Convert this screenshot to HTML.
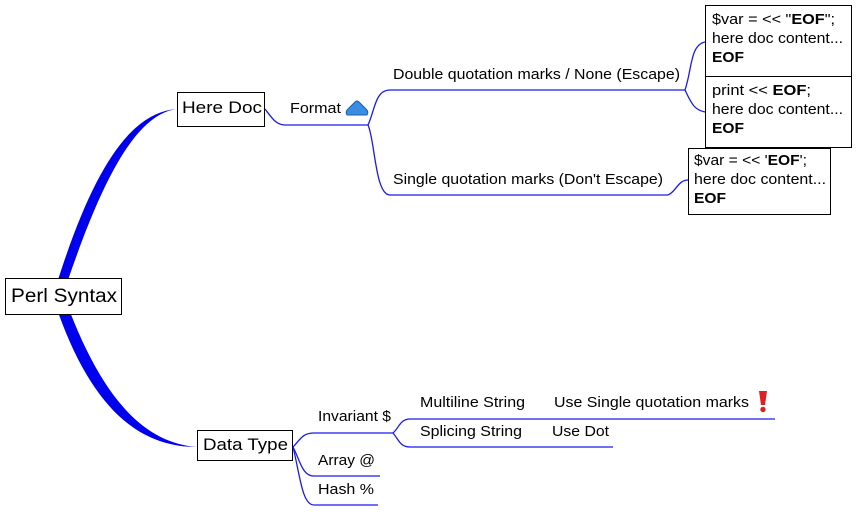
<!DOCTYPE html>
<html><head><meta charset="utf-8"><style>
html,body{margin:0;padding:0;background:#fff;}
svg text{font-family:"Liberation Sans",sans-serif;fill:#000;}
</style></head><body>
<svg width="856" height="511" viewBox="0 0 856 511" xmlns="http://www.w3.org/2000/svg">
<path d="M58,280 C93,170 130,112 177,109 C137,114 104,175 68,280 Z" fill="#0000ee"/>
<path d="M58,312 C93,410 140,447 197,447 C147,443 106,404 70,312 Z" fill="#0000ee"/>
<g fill="none" stroke="#1a1aee" stroke-width="1.3">
<path d="M265,109 C272,118 276,125 285,125 L368,125"/>
<path d="M368,125 C375,110 375,90 390,90 L685,90"/>
<path d="M368,125 C375,140 375,195 390,195 L668,195"/>
<path d="M685,90 C692,70 690,45 705,42"/>
<path d="M685,90 C692,105 695,110 705,112"/>
<path d="M668,195 C676,192 678,180 688,180"/>
<path d="M293,447 C300,440 302,433 314,433 L393,433"/>
<path d="M393,433 C399,428 400,419 410,419 L775,419"/>
<path d="M393,433 C399,440 400,447 410,447 L613,447"/>
<path d="M293,447 C300,460 302,476 314,476 L380,476"/>
<path d="M293,447 C300,475 302,505 314,505 L378,505"/>
</g>
<g fill="#fff" stroke="#000" stroke-width="1">
<rect x="5.5" y="278.5" width="116" height="36"/>
<rect x="177.5" y="92.5" width="87" height="34"/>
<rect x="197.5" y="430.5" width="95" height="30"/>
<rect x="705.5" y="5.5" width="146" height="142"/>
<line x1="705" y1="76.5" x2="852" y2="76.5"/>
<rect x="688.5" y="148.5" width="142" height="66"/>
</g>
<text x="11" y="302" font-size="19" textLength="106" lengthAdjust="spacingAndGlyphs">Perl Syntax</text>
<text x="182" y="113" font-size="17" textLength="80" lengthAdjust="spacingAndGlyphs">Here Doc</text>
<text x="203" y="450" font-size="17" textLength="85" lengthAdjust="spacingAndGlyphs">Data Type</text>
<path d="M347,115 Q345,112 348,109 L355,102 Q357,100 359,102 L366,109 Q369,112 367,115 Z" fill="#3a8de0" stroke="#1a5fb0" stroke-width="1"/>
<g font-size="15">
<text x="290" y="113" textLength="51" lengthAdjust="spacingAndGlyphs">Format</text>
<text x="393" y="79" textLength="287" lengthAdjust="spacingAndGlyphs">Double quotation marks / None (Escape)</text>
<text x="393" y="184" textLength="270" lengthAdjust="spacingAndGlyphs">Single quotation marks (Don't Escape)</text>
<text x="712" y="24" textLength="123" lengthAdjust="spacingAndGlyphs">$var = &lt;&lt; "<tspan font-weight="bold">EOF</tspan>";</text>
<text x="712" y="43" textLength="131" lengthAdjust="spacingAndGlyphs">here doc content...</text>
<text x="712" y="62" font-weight="bold" textLength="32" lengthAdjust="spacingAndGlyphs">EOF</text>
<text x="712" y="95" textLength="99" lengthAdjust="spacingAndGlyphs">print &lt;&lt; <tspan font-weight="bold">EOF</tspan>;</text>
<text x="712" y="114" textLength="131" lengthAdjust="spacingAndGlyphs">here doc content...</text>
<text x="712" y="133" font-weight="bold" textLength="32" lengthAdjust="spacingAndGlyphs">EOF</text>
<text x="694" y="165" textLength="113" lengthAdjust="spacingAndGlyphs">$var = &lt;&lt; '<tspan font-weight="bold">EOF</tspan>';</text>
<text x="694" y="184" textLength="132" lengthAdjust="spacingAndGlyphs">here doc content...</text>
<text x="694" y="203" font-weight="bold" textLength="32" lengthAdjust="spacingAndGlyphs">EOF</text>
<text x="318" y="421" textLength="73" lengthAdjust="spacingAndGlyphs">Invariant $</text>
<text x="420" y="407" textLength="105" lengthAdjust="spacingAndGlyphs">Multiline String</text>
<text x="554" y="407" textLength="195" lengthAdjust="spacingAndGlyphs">Use Single quotation marks</text>
<text x="420" y="436" textLength="102" lengthAdjust="spacingAndGlyphs">Splicing String</text>
<text x="552" y="436" textLength="57" lengthAdjust="spacingAndGlyphs">Use Dot</text>
<text x="318" y="465" textLength="57" lengthAdjust="spacingAndGlyphs">Array @</text>
<text x="318" y="494" textLength="56" lengthAdjust="spacingAndGlyphs">Hash %</text>
</g>
<path d="M759,391 L767,391 L765,405 L761,405 Z" fill="#e02020"/>
<circle cx="763" cy="409.5" r="2.7" fill="#e02020"/>
</svg>
</body></html>
